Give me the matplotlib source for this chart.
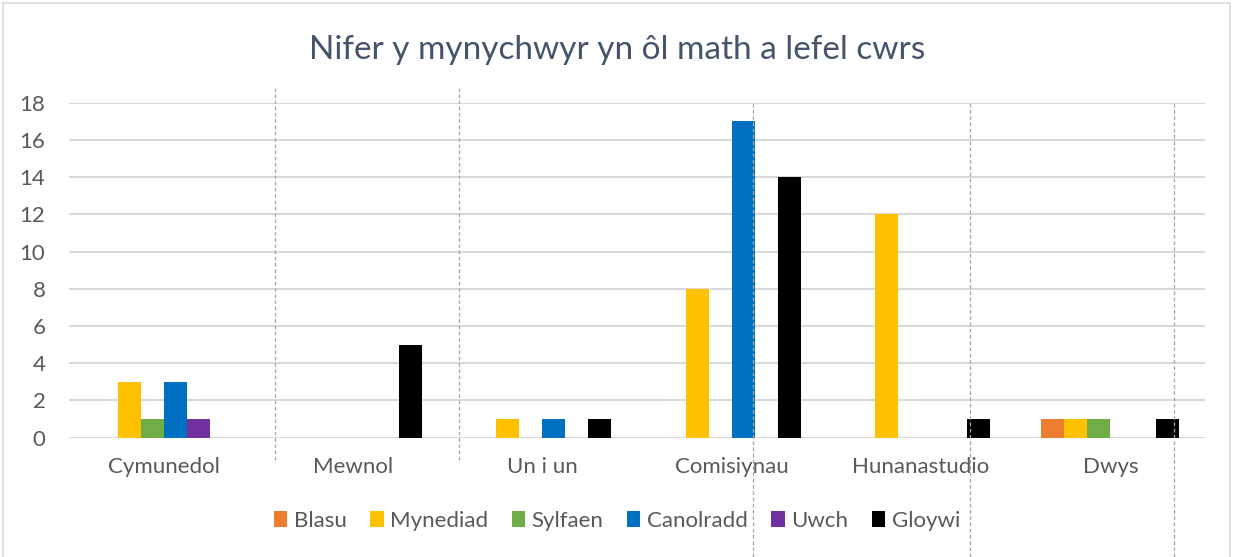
import matplotlib.pyplot as plt
import numpy as np
from matplotlib.lines import Line2D
from matplotlib.patches import Rectangle

categories = ["Cymunedol", "Mewnol", "Un i un", "Comisiynau", "Hunanastudio", "Dwys"]
series_names = ["Blasu", "Mynediad", "Sylfaen", "Canolradd", "Uwch", "Gloywi"]
blasu = [0, 0, 0, 0, 0, 1]
mynediad = [3, 0, 1, 8, 12, 1]
sylfaen = [1, 0, 0, 0, 0, 1]
canolradd = [3, 0, 1, 17, 0, 0]
uwch = [1, 0, 0, 0, 0, 0]
gloywi = [0, 5, 1, 14, 1, 1]
colors = ["#ED7D31", "#FFC000", "#70AD47", "#0070C0", "#7030A0", "#000000"]

plt.rcParams['font.family'] = ['Lato', 'DejaVu Sans']

fig = plt.figure(figsize=(12.34, 5.57), dpi=100)
ax = fig.add_axes([69 / 1234, 1 - 437.7 / 557, (1205 - 69) / 1234, (437.7 - 102.7) / 557])

x = np.arange(len(categories))
w = 0.1215
all_series = [blasu, mynediad, sylfaen, canolradd, uwch, gloywi]
for i, (name, vals, c) in enumerate(zip(series_names, all_series, colors)):
    ax.bar(x + (i - 2.5) * w, vals, width=w, color=c, label=name, zorder=3)

ax.set_xlim(-0.5, len(categories) - 0.5)
ax.set_ylim(0, 18)
ax.set_yticks(range(0, 19, 2))
ax.set_xticks(x)
ax.set_xticklabels(categories)
ax.tick_params(axis='both', length=0, labelsize=16, colors='#595959')
ax.tick_params(axis='y', pad=17)
ax.tick_params(axis='x', pad=14)
ax.yaxis.grid(True, color='#D9D9D9', linewidth=1.5, zorder=0)
for s in ax.spines.values():
    s.set_visible(False)

fig.text(0.5, 1 - 50 / 557, "Nifer y mynychwyr yn ôl math a lefel cwrs",
         ha='center', va='center', fontsize=24, color='#44546A')

leg = fig.legend(loc='center', bbox_to_anchor=(0.5, 1 - 521 / 557), ncol=6,
                 frameon=False, fontsize=16, handlelength=0.6, handleheight=0.7,
                 handletextpad=0.3, columnspacing=1.05)
for t in leg.get_texts():
    t.set_color('#595959')

# chart border
fig.add_artist(Rectangle((3 / 1234, -0.01), 1 - 7 / 1234, 1 - 3 / 557 + 0.01,
                         transform=fig.transFigure, fill=False,
                         edgecolor='#D9D9D9', linewidth=1.2))

# dashed guide lines visible in the source image
for gx, y0, y1 in [(275, 88, 460), (459, 88, 460), (753, 103, 557),
                   (970, 103, 557), (1174, 103, 557)]:
    fig.add_artist(Line2D([gx / 1234, gx / 1234], [1 - y1 / 557, 1 - y0 / 557],
                          transform=fig.transFigure, color='#A6A6A6',
                          linestyle=(0, (3, 2)), linewidth=0.9, zorder=10))

fig.savefig("out.png", dpi=100)
